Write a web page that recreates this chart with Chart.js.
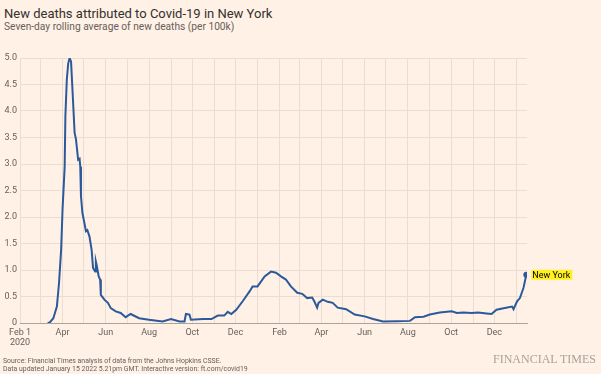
<!DOCTYPE html>
<html>
<head>
<meta charset="utf-8">
<script src="https://cdn.jsdelivr.net/npm/chart.js@4"></script>
<style>
  body { margin: 0; background: #fff1e5; width: 601px; height: 374px; overflow: hidden; position: relative; font-family: Roboto, sans-serif; }
  #title { position: absolute; left: 4px; top: 6px; font-size: 13px; color: #33302e; white-space: nowrap; }
  #sub { position: absolute; left: 4px; top: 21px; font-size: 10.2px; color: #66605c; white-space: nowrap; }
  .foot { position: absolute; left: 3px; font-size: 6.9px; color: #66605c; white-space: nowrap; }
  #ft { position: absolute; right: 5px; top: 352px; font-family: "Liberation Serif", serif; font-size: 12px; color: #a8a29c; }
  #c { position: absolute; left: 0; top: 0; }
</style>
</head>
<body>
<div id="title">New deaths attributed to Covid-19 in New York</div>
<div id="sub">Seven-day rolling average of new deaths (per 100k)</div>
<canvas id="c" width="601" height="374"></canvas>
<div class="foot" style="top:357px">Source: Financial Times analysis of data from the Johns Hopkins CSSE.</div>
<div class="foot" style="top:365px">Data updated January 15 2022 5.21pm GMT. Interactive version: ft.com/covid19</div>
<div id="ft">FINANCIAL TIMES</div>
<script>
// seven-day rolling average of new deaths per 100k
var dates = [
  '2020-03-11','2020-03-14','2020-03-19','2020-03-24','2020-03-27','2020-03-30','2020-04-01','2020-04-04',
  '2020-04-05','2020-04-07','2020-04-09','2020-04-11','2020-04-13','2020-04-15','2020-04-18','2020-04-20',
  '2020-04-23','2020-04-25','2020-04-26','2020-04-27','2020-04-29','2020-05-04','2020-05-06','2020-05-09',
  '2020-05-12','2020-05-14','2020-05-17','2020-05-18','2020-05-19','2020-05-22','2020-05-24','2020-05-25',
  '2020-05-30','2020-06-04','2020-06-08','2020-06-15','2020-06-22','2020-06-29','2020-07-06','2020-07-18',
  '2020-08-01','2020-08-20','2020-09-01','2020-09-13','2020-09-20','2020-09-22','2020-09-27','2020-09-29',
  '2020-10-16','2020-10-28','2020-11-06','2020-11-15','2020-11-20','2020-11-25','2020-12-02','2020-12-11',
  '2020-12-21','2020-12-25','2021-01-01','2021-01-11','2021-01-20','2021-01-27','2021-02-03','2021-02-10',
  '2021-02-17','2021-02-26','2021-03-05','2021-03-12','2021-03-19','2021-03-22','2021-03-26','2021-03-28',
  '2021-04-03','2021-04-10','2021-04-17','2021-04-24','2021-05-06','2021-05-18','2021-06-01','2021-06-13',
  '2021-06-27','2021-07-16','2021-08-04','2021-08-11','2021-08-23','2021-09-01','2021-09-15','2021-10-02',
  '2021-10-09','2021-10-18','2021-10-30','2021-11-08','2021-11-20','2021-11-27','2021-12-04','2021-12-14',
  '2021-12-26','2021-12-28','2022-01-02','2022-01-06','2022-01-11','2022-01-15'
];
var deaths = [
  0, 0.01, 0.09, 0.31, 0.75, 1.38, 2.14, 2.95,
  3.9, 4.59, 4.9, 5.0, 4.93, 4.4, 3.59, 3.46,
  3.08, 3.1, 2.95, 2.39, 2.08, 1.73, 1.75, 1.63,
  1.38, 1.04, 0.97, 1.16, 1.1, 0.88, 0.82, 0.53,
  0.44, 0.38, 0.28, 0.22, 0.19, 0.11, 0.17, 0.09,
  0.06, 0.03, 0.075, 0.03, 0.03, 0.17, 0.16, 0.06,
  0.075, 0.075, 0.14, 0.14, 0.21, 0.17, 0.25, 0.41,
  0.6, 0.69, 0.69, 0.88, 0.97, 0.95, 0.88, 0.82,
  0.69, 0.57, 0.55, 0.47, 0.48, 0.41, 0.29, 0.38,
  0.44, 0.40, 0.38, 0.29, 0.26, 0.16, 0.125, 0.075,
  0.03, 0.035, 0.04, 0.11, 0.12, 0.16, 0.2, 0.22,
  0.19, 0.2, 0.19, 0.2, 0.18, 0.17, 0.25, 0.28,
  0.31, 0.26, 0.41, 0.47, 0.66, 0.91
];
var seriesName = 'New York';
var yTicks = [0, 0.5, 1, 1.5, 2, 2.5, 3, 3.5, 4, 4.5, 5];
// one tick per month, Feb 2020 .. Jan 2022; label every other one
var xTickLabels = [['Feb 1', '2020'], '', 'Apr', '', 'Jun', '', 'Aug', '', 'Oct', '', 'Dec', '',
                   'Feb', '', 'Apr', '', 'Jun', '', 'Aug', '', 'Oct', '', 'Dec', ''];

var start = Date.UTC(2020, 1, 1);
function dayNum(s) {
  var p = s.split('-');
  return (Date.UTC(+p[0], +p[1] - 1, +p[2]) - start) / 864e5;
}
var monthTicks = [];
for (var i = 0; i < xTickLabels.length; i++) {
  monthTicks.push((Date.UTC(2020, 1 + i, 1) - start) / 864e5);
}
var points = dates.map(function(d, i) { return { x: dayNum(d), y: deaths[i] }; });
var last = points.length - 1;

var endLabel = {
  id: 'endLabel',
  afterDatasetsDraw: function(chart) {
    var pt = chart.getDatasetMeta(0).data[last];
    var c = chart.ctx;
    c.save();
    c.font = '9px Roboto, sans-serif';
    var w = c.measureText(seriesName).width;
    var x = pt.x + 6, y = pt.y;
    c.fillStyle = '#fff01e';
    c.fillRect(x - 1, y - 5, w + 3, 10);
    c.fillStyle = '#000';
    c.textBaseline = 'middle';
    c.fillText(seriesName, x, y + 0.5);
    c.restore();
  }
};

new Chart(document.getElementById('c'), {
  type: 'line',
  data: {
    datasets: [{
      label: seriesName,
      data: points,
      borderColor: '#2b5a9b',
      backgroundColor: '#2b5a9b',
      borderWidth: 2,
      fill: false,
      tension: 0,
      pointRadius: function(ctx) { return ctx.dataIndex === last ? 3 : 0; },
      pointBorderWidth: 0
    }]
  },
  options: {
    responsive: false,
    animation: false,
    layout: { padding: { top: 58, right: 74, bottom: 21, left: 0 } },
    plugins: { legend: { display: false }, tooltip: { enabled: false } },
    scales: {
      x: {
        type: 'linear',
        min: 0,
        max: 715,
        afterBuildTicks: function(scale) {
          scale.ticks = monthTicks.map(function(v) { return { value: v }; });
        },
        afterFit: function(scale) { scale.height = 30; },
        ticks: {
          autoSkip: false,
          maxRotation: 0,
          padding: 4,
          color: '#66605c',
          font: { family: 'Roboto', size: 9 },
          callback: function(v, i) { return xTickLabels[i]; }
        },
        grid: { color: '#ebddd1', drawTicks: false },
        border: { display: true, color: '#aaa39d', width: 1 }
      },
      y: {
        min: 0,
        max: 5,
        afterBuildTicks: function(scale) {
          scale.ticks = yTicks.map(function(v) { return { value: v }; });
        },
        afterFit: function(scale) { scale.width = 20; },
        ticks: {
          padding: 3,
          color: '#66605c',
          font: { family: 'Roboto', size: 9 },
          callback: function(v) { return v === 0 ? '0' : v.toFixed(1); }
        },
        grid: { color: '#ebddd1', drawTicks: false },
        border: { display: false }
      }
    }
  },
  plugins: [endLabel]
});
</script>
</body>
</html>
